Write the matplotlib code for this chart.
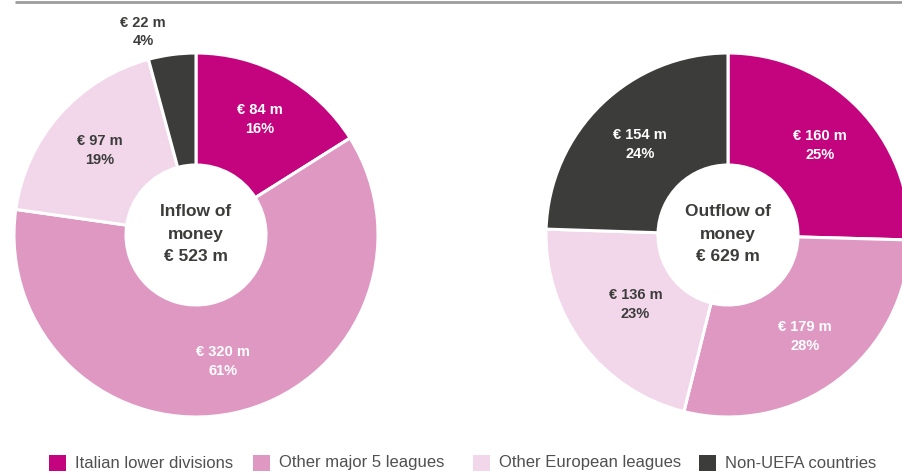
import numpy as np
import matplotlib
matplotlib.use("Agg")
import matplotlib.pyplot as plt
from matplotlib import font_manager
from matplotlib.patches import Rectangle

# Transfer money flows by counterparty (EUR million)
categories = ["Italian lower divisions", "Other major 5 leagues",
              "Other European leagues", "Non-UEFA countries"]
inflow_values = [84, 320, 97, 22]
outflow_values = [160, 179, 136, 154]
inflow_pct_labels = ["16%", "61%", "19%", "4%"]
outflow_pct_labels = ["25%", "28%", "23%", "24%"]
inflow_total = 523
outflow_total = 629

colors = ["#C4047E", "#DE98C2", "#F2D7EA", "#3C3C3B"]
label_colors = ["white", "white", "#3C3C3B", "white"]
dark = "#3C3C3B"

names = {f.name for f in font_manager.fontManager.ttflist}
has_narrow = "Liberation Sans Narrow" in names
legend_font = "Liberation Sans Narrow" if has_narrow else "Liberation Sans"
legend_size = 14 if has_narrow else 12
plt.rcParams["font.family"] = ["Liberation Sans", "DejaVu Sans"]

W, H = 903, 473
fig = plt.figure(figsize=(W / 100, H / 100), dpi=100)
ax = fig.add_axes([0, 0, 1, 1])

R, HOLE = 182, 70


def donut(values, pct_labels, center, title, total, label_r, label_override=None):
    cx, cy = center
    ax.pie(values, colors=colors, startangle=90, counterclock=False,
           radius=R, center=(cx, H - cy),
           wedgeprops=dict(width=R - HOLE, edgecolor="white", linewidth=2.2))
    tot = sum(values)
    start = 0.0
    for i, v in enumerate(values):
        span = 360.0 * v / tot
        mid = np.deg2rad(start + span / 2)
        start += span
        txt = f"€ {v} m\n{pct_labels[i]}"
        col = label_colors[i]
        if label_override and i in label_override:
            dx, dy = label_override[i]
            x, y = cx + dx, H - (cy + dy)
            col = dark
        else:
            x = cx + label_r[i] * np.sin(mid)
            y = H - (cy - label_r[i] * np.cos(mid))
        ax.text(x, y, txt, ha="center", va="center", fontsize=10.5,
                fontweight="bold", color=col, linespacing=1.45)
    ax.text(cx, H - cy + 1, f"{title}\nmoney\n€ {total} m", ha="center", va="center",
            fontsize=12.5, fontweight="bold", color=dark, linespacing=1.6)


donut(inflow_values, inflow_pct_labels, (196, 235), "Inflow of", inflow_total,
      [132, 129, 128, 128], label_override={3: (-53, -203)})
donut(outflow_values, outflow_pct_labels, (728, 235), "Outflow of", outflow_total,
      [128, 127, 116, 126])

ax.set_xlim(0, W)
ax.set_ylim(0, H)
ax.set_aspect("equal")
ax.axis("off")

# rule across the top
ax.plot([15, W], [H - 1.5, H - 1.5], color="#9D9D9D", linewidth=2, solid_capstyle="butt")

# legend row
legend_x = [49, 253, 473, 699]
for x, c, name in zip(legend_x, colors, categories):
    ax.add_patch(Rectangle((x, H - 471), 17, 16, facecolor=c, edgecolor="none"))
    ax.text(x + 26, H - 463, name, ha="left", va="center", fontsize=legend_size,
            family=[legend_font, "DejaVu Sans"], color="#505050")

fig.savefig("out.png", dpi=100)
